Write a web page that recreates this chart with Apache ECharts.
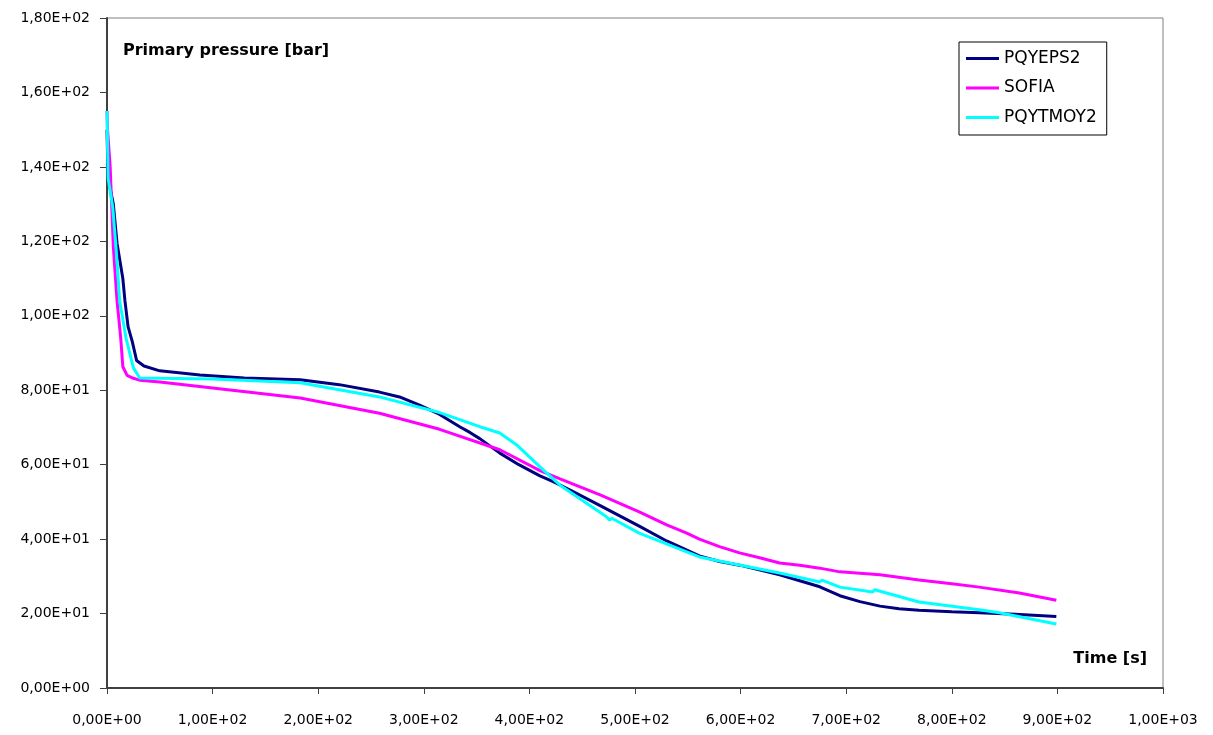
<!DOCTYPE html>
<html>
<head>
<meta charset="utf-8">
<script src="https://cdn.jsdelivr.net/npm/echarts@6/dist/echarts.min.js"></script>
<style>html,body{margin:0;padding:0;background:#fff}#c{width:1213px;height:735px}</style>
</head>
<body>
<div id="c"></div>
<script>
// ---- data ----
const seriesNames = ['PQYEPS2', 'SOFIA', 'PQYTMOY2'];

const pqyeps2Time = [0,1,6,9.5,15,17,20,24,28,35,50,88,130,183,220,258,277,296,315,334,344,353,372,390,410,422,440,467,504,530,561,580,599,637,656,675,694,713,732,750,769,800,826,860,899];
const pqyeps2Value = [150,137,130,119.5,110,104,97,93,88,86.5,85.2,84.1,83.3,82.8,81.5,79.5,78.2,76,73.5,70.2,68.6,67,63.1,60,57,55.5,53,49,43.5,39.5,35.5,34,33,30.4,28.8,27.2,24.8,23.2,22,21.3,20.9,20.5,20.2,19.8,19.2];

const sofiaTime = [0,0.5,3,6,9.5,13,15,19,25,31,50,100,183,258,315,372,410,429,467,504,530,549,561,580,599,618,637,656,675,694,732,769,800,826,864,899];
const sofiaValue = [155,150,140,118.5,104,94,86.3,84,83.2,82.7,82.2,80.6,77.9,73.8,69.5,64,58.4,56.2,51.9,47.3,43.8,41.6,40,38,36.3,35,33.6,33,32.2,31.2,30.4,29,28,27.1,25.5,23.6];

const pqytmoy2Time = [0,1,5.5,8.5,12,18,25,31,50,100,183,258,315,353,372,388,410,429,473,476,478,504,561,600,637,675,677,694,725,727,769,826,845,899];
const pqytmoy2Value = [155,137,129,118.5,104,94,86,83.3,83.2,83,82,78.2,74,70.2,68.5,65.3,59.4,54.5,46,45.1,45.6,41.6,35.2,33,30.9,28.5,29,27.1,25.8,26.4,23.1,21,20.2,17.2];

const yAxisTitle = 'Primary pressure [bar]';
const xAxisTitle = 'Time [s]';

// ---- helpers ----
function zip(t, v) { return t.map((x, i) => [x, v[i]]); }
function sci(v) {
  if (v === 0) return '0,00E+00';
  const e = Math.floor(Math.log10(Math.abs(v)) + 1e-9);
  const m = v / Math.pow(10, e);
  return m.toFixed(2).replace('.', ',') + 'E' + (e < 0 ? '-' : '+') + String(Math.abs(e)).padStart(2, '0');
}

const colors = ['#000080', '#FF00FF', '#00FFFF'];
const font = 'DejaVu Sans';

const chart = echarts.init(document.getElementById('c'), null, { renderer: 'canvas' });
chart.setOption({
  animation: false,
  backgroundColor: '#fff',
  color: colors,
  grid: { left: 107, right: 50, top: 18, bottom: 47, show: true, borderColor: '#808080', borderWidth: 1 },
  xAxis: {
    type: 'value', min: 0, max: 1000, interval: 100,
    axisLine: { show: true, onZero: false, lineStyle: { color: '#404040', width: 2 } },
    axisTick: { show: true, length: 6, lineStyle: { color: '#404040', width: 1 } },
    axisLabel: { formatter: sci, color: '#000', fontFamily: font, fontSize: 14, margin: 25 },
    splitLine: { show: false }
  },
  yAxis: {
    type: 'value', min: 0, max: 180, interval: 20,
    axisLine: { show: true, onZero: false, lineStyle: { color: '#404040', width: 2 } },
    axisTick: { show: true, length: 7, lineStyle: { color: '#404040', width: 1 } },
    axisLabel: { formatter: sci, color: '#000', fontFamily: font, fontSize: 14, margin: 17 },
    splitLine: { show: false }
  },
  legend: {
    data: seriesNames,
    orient: 'vertical',
    left: 959, top: 42,
    icon: 'rect', itemWidth: 33, itemHeight: 3, itemGap: 12.5,
    padding: [8, 10, 9, 7],
    borderColor: '#000', borderWidth: 1, borderRadius: 0,
    textStyle: { fontFamily: font, fontSize: 17, color: '#000' }
  },
  graphic: [
    { type: 'text', left: 123, top: 43, style: { text: yAxisTitle, font: 'bold 16px "DejaVu Sans"', fill: '#000' } },
    { type: 'text', right: 66, top: 651, style: { text: xAxisTitle, font: 'bold 16px "DejaVu Sans"', fill: '#000' } }
  ],
  series: [
    { name: seriesNames[0], type: 'line', showSymbol: false, data: zip(pqyeps2Time, pqyeps2Value), lineStyle: { width: 3, color: colors[0] } },
    { name: seriesNames[1], type: 'line', showSymbol: false, data: zip(sofiaTime, sofiaValue), lineStyle: { width: 3, color: colors[1] } },
    { name: seriesNames[2], type: 'line', showSymbol: false, data: zip(pqytmoy2Time, pqytmoy2Value), lineStyle: { width: 3, color: colors[2] } }
  ]
});
</script>
</body>
</html>
